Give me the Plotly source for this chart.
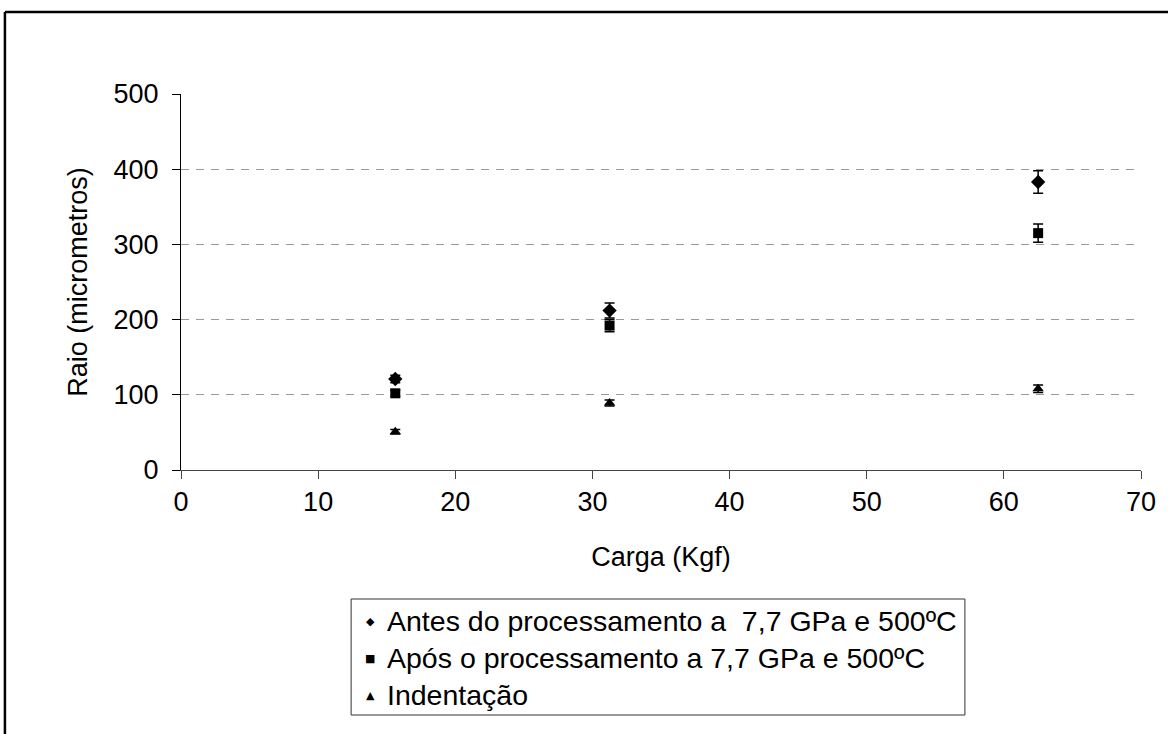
import plotly.graph_objects as go

# Load (kgf) applied for each indentation
carga = [15.625, 31.25, 62.5]

# Mean radius (micrometres) and standard deviation per series
antes = [121, 212, 383]
antes_err = [5, 10, 15]
apos = [102, 192, 315]
apos_err = [4, 8, 12]
indentacao = [51, 89, 108]
indentacao_err = [3, 4, 5]

nomes = [
    "Antes do processamento a  7,7 GPa e 500ºC",
    "Após o processamento a 7,7 GPa e 500ºC",
    "Indentação",
]
simbolos = ["diamond", "square", "triangle-up"]
glifos = ["◆", "■", "▲"]
tamanhos = [11, 10, 10]

y_ticks = [0, 100, 200, 300, 400, 500]
x_ticks = [0, 10, 20, 30, 40, 50, 60, 70]

FONT = "Liberation Sans, Arial, sans-serif"
TXT = 27
LEG_TXT = 28.5

fig = go.Figure()
for nome, ys, errs, sym, sz in zip(nomes, [antes, apos, indentacao],
                                   [antes_err, apos_err, indentacao_err],
                                   simbolos, tamanhos):
    fig.add_trace(go.Scatter(
        x=carga, y=ys, mode="markers", name=nome,
        marker=dict(symbol=sym, size=sz, color="black"),
        error_y=dict(type="data", array=errs, color="black",
                     thickness=1.5, width=5),
    ))

W, H = 1168, 734
L, R, T, B = 181, 22, 94, 264
pw, ph = W - L - R, H - T - B


def px_x(p):
    return (p - L) / pw


def px_y(p):
    return (H - B - p) / ph


fig.update_layout(
    width=W, height=H,
    margin=dict(l=L, r=R, t=T, b=B),
    paper_bgcolor="white", plot_bgcolor="white",
    font=dict(family=FONT, size=TXT, color="black"),
    showlegend=False,
    xaxis=dict(
        range=[0, 70], tickvals=x_ticks, showgrid=False, zeroline=False,
        showline=True, linecolor="#444", linewidth=1,
        ticks="outside", ticklen=8, tickcolor="#444",
        title=dict(text="Carga (Kgf)", standoff=30,
                   font=dict(family=FONT, size=TXT)),
        tickfont=dict(family=FONT, size=TXT),
    ),
    yaxis=dict(
        range=[0, 500], tickvals=y_ticks, zeroline=False,
        showgrid=True, gridcolor="#9a9a9a", griddash="8px,7px", gridwidth=1,
        showline=True, linecolor="black", linewidth=1,
        ticks="outside", ticklen=8, tickcolor="black",
        ticklabelstandoff=8,
        title=dict(text="Raio (micrometros)", standoff=18,
                   font=dict(family=FONT, size=TXT)),
        tickfont=dict(family=FONT, size=TXT),
    ),
)

# Outer chart frame (top and left edges)
fig.add_shape(type="line", xref="paper", yref="paper",
              x0=px_x(4), y0=px_y(12), x1=px_x(1175), y1=px_y(12),
              line=dict(color="black", width=2.5))
fig.add_shape(type="line", xref="paper", yref="paper",
              x0=px_x(4), y0=px_y(12), x1=px_x(4), y1=px_y(740),
              line=dict(color="black", width=2.5))

# Legend box with compact rows
fig.add_shape(type="rect", xref="paper", yref="paper",
              x0=px_x(352), x1=px_x(969), y0=px_y(599), y1=px_y(715),
              line=dict(color="#333", width=1), fillcolor="white",
              layer="below")
linhas_y = [621, 658, 695]
for nome, glifo, yc in zip(nomes, glifos, linhas_y):
    fig.add_annotation(
        x=px_x(371), y=px_y(yc), xref="paper", yref="paper",
        text=glifo, showarrow=False, xanchor="center", yanchor="middle",
        font=dict(family="DejaVu Sans", size=11, color="black"),
    )
    fig.add_annotation(
        x=px_x(386), y=px_y(yc), xref="paper", yref="paper",
        text=nome, showarrow=False, xanchor="left", yanchor="middle",
        font=dict(family=FONT, size=LEG_TXT, color="black"),
    )

fig.write_html("out.html")
